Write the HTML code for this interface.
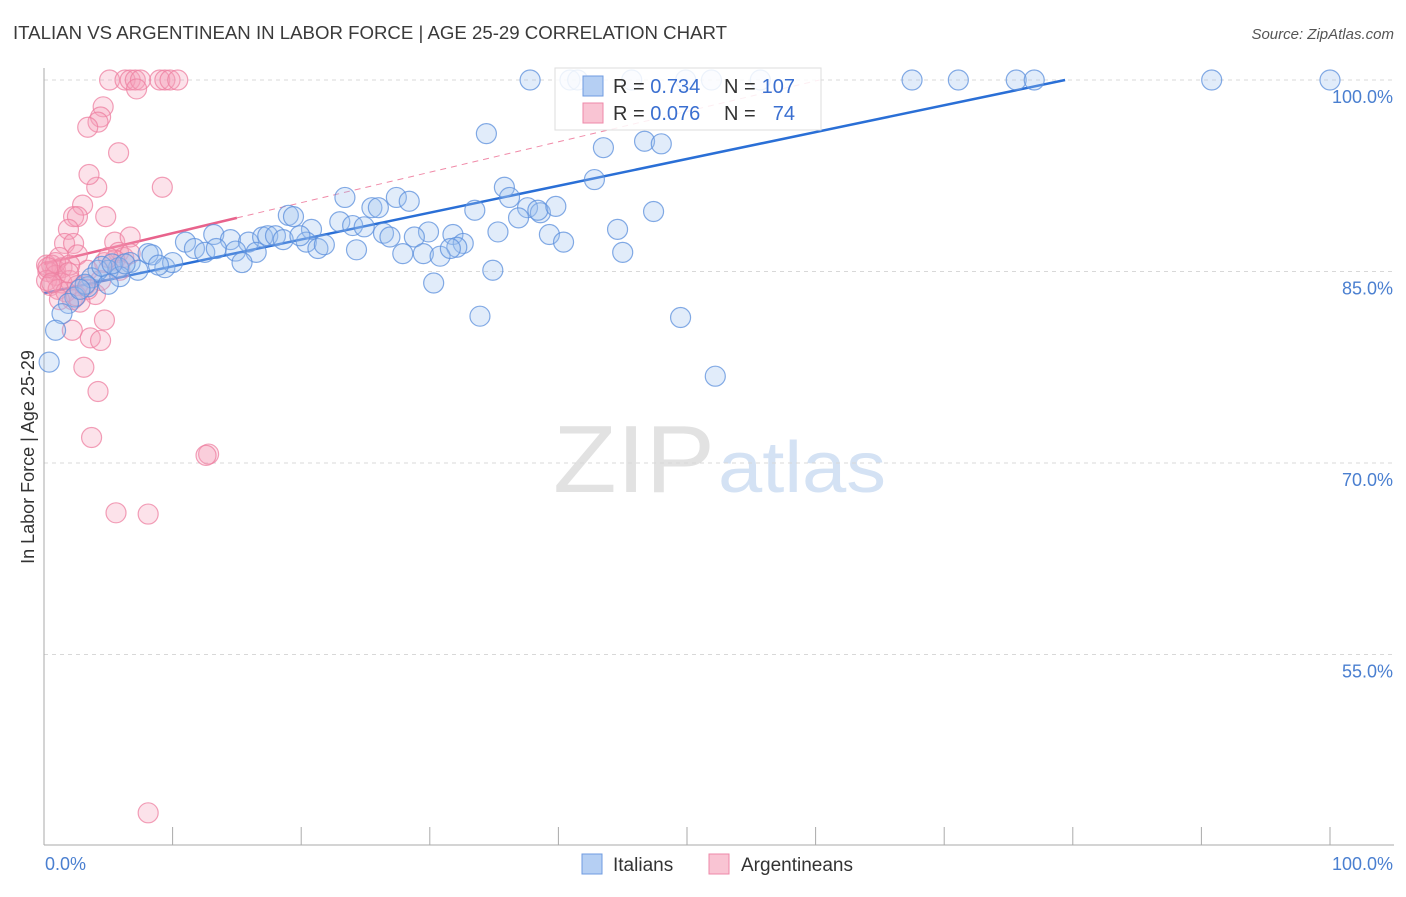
<!DOCTYPE html>
<html><head><meta charset="utf-8"><style>
body{margin:0;background:#fff;font-family:"Liberation Sans",sans-serif}
svg text{font-family:"Liberation Sans",sans-serif}
</style></head><body>
<svg id="chart" width="1406" height="892" xmlns="http://www.w3.org/2000/svg">
<text x="13" y="39" font-size="18" fill="#3a3a3a" textLength="714" lengthAdjust="spacingAndGlyphs">ITALIAN VS ARGENTINEAN IN LABOR FORCE | AGE 25-29 CORRELATION CHART</text>
<text x="1394" y="39" font-size="15" fill="#555" text-anchor="end" font-style="italic">Source: ZipAtlas.com</text>
<g>
<text x="553" y="492" font-size="96" fill="#e2e2e2" font-family="Liberation Serif" textLength="162" lengthAdjust="spacingAndGlyphs">ZIP</text>
<text x="718" y="492" font-size="72" fill="#d4e2f4" textLength="168" lengthAdjust="spacingAndGlyphs">atlas</text>
</g>
<g id="grid"></g>
<g id="axes"></g>
<g id="trend"></g>
<g id="pts"></g>
<g>
<rect x="555" y="68" width="266" height="62" fill="#fff" fill-opacity="0.85" stroke="#ddd"/>
<rect x="583" y="76" width="20" height="20" fill="#b5cff3" stroke="#6f9be0"/>
<rect x="583" y="103" width="20" height="20" fill="#f9c4d3" stroke="#ee88a8"/>
<text x="613" y="93" font-size="20" fill="#333">R = <tspan fill="#3a6fd0">0.734</tspan></text>
<text x="724" y="93" font-size="20" fill="#333">N = </text>
<text x="795" y="93" font-size="20" fill="#3a6fd0" text-anchor="end">107</text>
<text x="613" y="120" font-size="20" fill="#333">R = <tspan fill="#3a6fd0">0.076</tspan></text>
<text x="724" y="120" font-size="20" fill="#333">N = </text>
<text x="795" y="120" font-size="20" fill="#3a6fd0" text-anchor="end">74</text>
</g>
<text transform="translate(34,457) rotate(-90)" font-size="18" fill="#333" text-anchor="middle">In Labor Force | Age 25-29</text>
<text x="45" y="870" font-size="18" fill="#4a7fd0">0.0%</text>
<text x="1393" y="870" font-size="18" fill="#4a7fd0" text-anchor="end">100.0%</text>
<g>
<rect x="582" y="854" width="20" height="20" fill="#b5cff3" stroke="#6f9be0"/>
<text x="613" y="871" font-size="19" fill="#333">Italians</text>
<rect x="709" y="854" width="20" height="20" fill="#f9c4d3" stroke="#ee88a8"/>
<text x="741" y="871" font-size="19" fill="#333">Argentineans</text>
</g>
</svg>
<script>
const yTicks=[100,85,70,55];
const yTickLabels=["100.0%","85.0%","70.0%","55.0%"];
const xTicks=[0,10,20,30,40,50,60,70,80,90,100];
const blueX=[37.8,40.9,41.5,45.7,49.9,51.9,55.7,67.5,71.1,75.6,77.0,90.8,100,34.4,43.5,46.7,48.0,42.8,35.8,23.4,27.4,28.4,19.0,19.4,25.5,26.0,33.5,36.2,37.6,38.6,36.9,38.4,39.8,47.4,44.6,20.8,23.0,24.0,24.9,26.4,26.9,29.9,28.8,31.8,32.6,32.1,35.3,39.3,40.4,11.0,13.2,14.5,15.9,17.0,17.4,18.0,18.6,20.4,21.3,21.8,19.9,11.7,12.5,13.4,14.9,16.5,15.4,24.3,27.9,29.5,30.8,31.6,45.0,34.9,30.3,33.9,49.5,52.2,8.1,8.4,6.7,5.8,5.0,4.2,9.4,10.0,8.9,7.3,3.7,5.9,5.0,3.4,2.4,1.9,1.4,0.9,0.4,4.5,5.3,6.3,3.2,2.8];
const blueY=[100,100,100,100,100,100,100,100,100,100,100,100,100,95.8,94.7,95.2,95.0,92.2,91.6,90.8,90.8,90.5,89.4,89.3,90.0,90.0,89.8,90.8,90.0,89.6,89.2,89.8,90.1,89.7,88.3,88.3,88.9,88.6,88.5,88.0,87.7,88.1,87.7,87.9,87.2,86.9,88.1,87.9,87.3,87.3,87.9,87.5,87.3,87.7,87.8,87.8,87.5,87.3,86.8,87.1,87.8,86.8,86.5,86.8,86.6,86.5,85.7,86.7,86.4,86.4,86.2,86.8,86.5,85.1,84.1,81.5,81.4,76.8,86.4,86.3,85.7,85.3,85.1,85.1,85.3,85.7,85.5,85.1,84.5,84.6,84.0,83.8,83.0,82.5,81.7,80.4,77.9,85.4,85.6,85.6,84.0,83.6];
const pinkX=[5.1,6.3,6.7,7.1,7.5,9.0,9.4,9.8,10.4,7.2,4.6,4.4,4.2,3.4,5.8,4.1,9.2,3.5,3.0,2.3,2.6,4.8,1.9,1.6,2.3,5.5,6.7,2.6,1.2,5.8,6.2,0.2,0.6,0.9,1.4,0.3,0.9,0.2,1.4,2.0,2.6,3.2,4.0,3.4,2.2,2.8,4.7,2.2,3.6,4.4,3.1,4.2,3.7,12.8,12.6,5.6,8.1,8.1,0.5,1.1,1.7,2.5,0.9,0.3,6.7,4.7,5.5,3.4,2.0,4.4,1.2,1.9,0.6,5.9,5.0];
const pinkY=[100,100,100,100,100,100,100,100,100,99.3,97.9,97.1,96.7,96.3,94.3,91.6,91.6,92.6,90.2,89.3,89.3,89.3,88.3,87.2,87.2,87.3,87.7,86.3,86.1,86.5,86.1,85.5,85.5,85.1,85.3,85.0,84.7,84.3,84.1,84.3,83.9,83.9,83.2,83.6,82.8,82.6,81.2,80.4,79.8,79.6,77.5,75.6,72.0,70.7,70.6,66.1,66.0,42.6,83.9,83.6,83.4,83.1,85.7,85.3,86.4,85.7,85.9,85.1,85.5,84.3,82.8,84.9,84.1,85.1,86.1];
const blueTrend=[[0,83.3],[79.4,100]];
const pinkTrend=[[0,85.6],[15,89.2]];
const pinkTrendDash=[[15,89.2],[60.3,100]];
const NS="http://www.w3.org/2000/svg";
const X=v=>44+v*12.86, Y=v=>80+(100-v)*12.767;
function mk(tag,attrs,parent){const e=document.createElementNS(NS,tag);for(const k in attrs)e.setAttribute(k,attrs[k]);document.getElementById(parent).appendChild(e);return e;}
yTicks.forEach((t,i)=>{
 const l=mk('line',{x1:44,x2:1394,y1:Y(t),y2:Y(t),stroke:'#d8d8d8','stroke-dasharray':'4,4'},'grid');
 
 
 const tx=mk('text',{x:1393,y:Y(t)+23,'font-size':18,fill:'#4a7fd0','text-anchor':'end'},'grid');
 tx.textContent=yTickLabels[i];
 
 
});
let a=mk('line',{x1:44,x2:44,y1:68,y2:845,stroke:'#aaa'},'axes');


a=mk('line',{x1:44,x2:1394,y1:845,y2:845,stroke:'#aaa'},'axes');


xTicks.forEach(t=>{const l=mk('line',{x1:X(t),x2:X(t),y1:827,y2:845,stroke:'#aaa'},'axes');
 
 });
function pts(xs,ys,fill,stroke,name){xs.forEach((x,i)=>{const c=mk('circle',{cx:X(x),cy:Y(ys[i]),r:10,fill:fill,'fill-opacity':0.3,stroke:stroke,'stroke-width':1.2,'stroke-opacity':0.75},'pts');
 
 });}
pts(pinkX,pinkY,'#f4a0b8','#ee7fa0','argentinean-point');
pts(blueX,blueY,'#9cc0ef','#5b8fdc','italian-point');
function ln(p,stroke,w,dash,name){const l=mk('line',{x1:X(p[0][0]),y1:Y(p[0][1]),x2:X(p[1][0]),y2:Y(p[1][1]),stroke:stroke,'stroke-width':w},'trend');if(dash)l.setAttribute('stroke-dasharray',dash);
 
 }
ln(pinkTrendDash,'#f08aa8',1,'6,5','argentinean-trend-extension');
ln(pinkTrend,'#e8638c',2.5,null,'argentinean-trendline');
ln(blueTrend,'#2a6fd6',2.5,null,'italian-trendline');
</script>
</body></html>
